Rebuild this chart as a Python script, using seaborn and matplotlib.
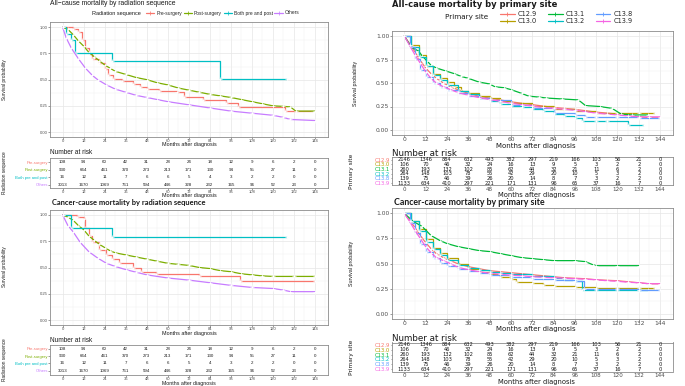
import numpy as np
import pandas as pd
import matplotlib
matplotlib.use("Agg")
import matplotlib.pyplot as plt
import seaborn as sns
from matplotlib.lines import Line2D

# ---------------- data ----------------
months = [0, 12, 24, 36, 48, 60, 72, 84, 96, 108, 120, 132, 144]

rad_groups = ["Pre-surgery", "Post-surgery", "Both pre and post", "Others"]
site_groups = ["C12.9", "C13.0", "C13.1", "C13.2", "C13.8", "C13.9"]

# All-cause mortality by radiation sequence
ac_pre_t = [0, 6, 9, 11, 13, 15, 17, 21, 24, 26, 29, 34, 40, 44, 48, 55, 65, 69, 80, 93, 100, 127, 143]
ac_pre_s = [1.0, 0.98, 0.95, 0.88, 0.80, 0.74, 0.70, 0.66, 0.60, 0.54, 0.51, 0.49, 0.46, 0.43, 0.41, 0.39, 0.38, 0.33, 0.31, 0.28, 0.24, 0.20, 0.20]
ac_post_t = [0, 3, 6, 9, 12, 15, 18, 21, 24, 27, 30, 36, 42, 48, 54, 60, 66, 72, 78, 84, 90, 96, 102, 108, 114, 120, 126, 130, 133, 144]
ac_post_s = [1.0, 0.98, 0.93, 0.87, 0.82, 0.76, 0.72, 0.68, 0.64, 0.61, 0.58, 0.55, 0.52, 0.50, 0.47, 0.45, 0.42, 0.40, 0.38, 0.36, 0.345, 0.33, 0.31, 0.29, 0.27, 0.25, 0.245, 0.24, 0.20, 0.20]
ac_both_t = [0, 2, 5, 7, 28, 90, 128]
ac_both_s = [1.0, 0.94, 0.875, 0.75, 0.68, 0.51, 0.51]
ac_oth_t = [0, 2, 5, 9, 13, 17, 20, 25, 30, 36, 42, 48, 54, 60, 72, 84, 96, 108, 120, 126, 130, 144]
ac_oth_s = [1.0, 0.90, 0.80, 0.70, 0.61, 0.54, 0.50, 0.45, 0.41, 0.38, 0.35, 0.33, 0.31, 0.29, 0.26, 0.23, 0.20, 0.18, 0.16, 0.14, 0.12, 0.11]

# Cancer-cause mortality by radiation sequence
cc_pre_t = [0, 8, 12, 13, 15, 17, 21, 25, 28, 32, 40, 45, 53, 78, 101, 144]
cc_pre_s = [1.0, 0.98, 0.96, 0.88, 0.80, 0.74, 0.67, 0.62, 0.58, 0.54, 0.50, 0.46, 0.44, 0.42, 0.37, 0.37]
cc_post_t = [0, 3, 6, 9, 12, 15, 18, 21, 24, 27, 30, 36, 42, 48, 54, 60, 66, 72, 78, 84, 90, 96, 102, 108, 114, 120, 132, 144]
cc_post_s = [1.0, 0.98, 0.95, 0.90, 0.86, 0.80, 0.76, 0.72, 0.69, 0.66, 0.64, 0.62, 0.60, 0.58, 0.56, 0.54, 0.53, 0.52, 0.50, 0.49, 0.47, 0.46, 0.44, 0.43, 0.42, 0.415, 0.415, 0.415]
cc_both_t = [0, 5, 28, 128]
cc_both_s = [1.0, 0.875, 0.79, 0.79]
cc_oth_t = [0, 3, 6, 10, 15, 20, 25, 30, 36, 42, 48, 60, 72, 84, 96, 108, 120, 126, 130, 144]
cc_oth_s = [1.0, 0.90, 0.84, 0.74, 0.65, 0.59, 0.54, 0.51, 0.48, 0.455, 0.43, 0.40, 0.38, 0.355, 0.33, 0.31, 0.30, 0.285, 0.27, 0.27]

# All-cause mortality by primary site
site_t = [0, 3, 6, 9, 12, 15, 18, 22, 26, 30, 36, 42, 48, 54, 60, 66, 72, 78, 84, 90, 96, 102, 108, 114, 120, 126, 132, 138, 144]
ac_c129_s = [1.0, 0.92, 0.83, 0.74, 0.66, 0.60, 0.55, 0.50, 0.46, 0.43, 0.39, 0.36, 0.34, 0.32, 0.30, 0.285, 0.27, 0.255, 0.24, 0.23, 0.22, 0.205, 0.19, 0.18, 0.17, 0.16, 0.14, 0.13, 0.13]
ac_c139_s = [1.0, 0.90, 0.80, 0.71, 0.62, 0.55, 0.50, 0.46, 0.43, 0.40, 0.37, 0.345, 0.325, 0.305, 0.285, 0.27, 0.255, 0.24, 0.23, 0.22, 0.21, 0.195, 0.18, 0.17, 0.16, 0.15, 0.14, 0.14, 0.14]
ac_c131_t = [0, 4, 8, 10, 13, 15, 18, 23, 28, 32, 36, 42, 48, 51, 56, 60, 66, 70, 76, 80, 89, 98, 102, 110, 117, 122, 128, 137]
ac_c131_s = [1.0, 0.88, 0.84, 0.79, 0.73, 0.69, 0.66, 0.63, 0.60, 0.57, 0.55, 0.51, 0.49, 0.46, 0.45, 0.43, 0.39, 0.36, 0.35, 0.34, 0.33, 0.32, 0.26, 0.25, 0.23, 0.17, 0.16, 0.16]
ac_c130_t = [0, 4, 8, 12, 16, 20, 24, 28, 32, 36, 42, 48, 54, 60, 72, 84, 96, 108, 120, 132, 141]
ac_c130_s = [1.0, 0.90, 0.80, 0.68, 0.60, 0.55, 0.51, 0.46, 0.42, 0.39, 0.36, 0.34, 0.31, 0.29, 0.26, 0.22, 0.20, 0.185, 0.185, 0.185, 0.185]
ac_c132_t = [0, 4, 8, 12, 16, 20, 24, 30, 36, 42, 48, 54, 60, 66, 72, 78, 84, 90, 96, 100, 108, 114, 126, 135]
ac_c132_s = [1.0, 0.88, 0.78, 0.68, 0.59, 0.53, 0.48, 0.42, 0.38, 0.34, 0.31, 0.28, 0.26, 0.24, 0.22, 0.20, 0.17, 0.15, 0.13, 0.10, 0.10, 0.10, 0.05, 0.05]
ac_c138_t = [0, 3, 6, 9, 12, 16, 20, 24, 30, 36, 42, 48, 60, 72, 84, 96, 102, 108, 120, 132, 144]
ac_c138_s = [1.0, 0.88, 0.76, 0.64, 0.56, 0.50, 0.46, 0.43, 0.39, 0.36, 0.34, 0.32, 0.27, 0.23, 0.18, 0.16, 0.135, 0.135, 0.135, 0.13, 0.13]

# Cancer-cause mortality by primary site
cc_c129_s = [1.0, 0.93, 0.86, 0.78, 0.71, 0.65, 0.60, 0.56, 0.53, 0.50, 0.47, 0.45, 0.43, 0.42, 0.41, 0.40, 0.39, 0.38, 0.37, 0.36, 0.355, 0.35, 0.34, 0.335, 0.33, 0.32, 0.31, 0.30, 0.30]
cc_c139_s = [1.0, 0.92, 0.83, 0.75, 0.67, 0.61, 0.56, 0.53, 0.50, 0.465, 0.44, 0.42, 0.405, 0.395, 0.385, 0.38, 0.37, 0.365, 0.36, 0.355, 0.35, 0.345, 0.34, 0.33, 0.325, 0.315, 0.31, 0.30, 0.30]
cc_c131_t = [0, 5, 10, 15, 20, 24, 30, 36, 42, 48, 54, 60, 66, 72, 78, 84, 96, 102, 106, 108, 120, 132]
cc_c131_s = [1.0, 0.92, 0.87, 0.78, 0.73, 0.70, 0.67, 0.65, 0.63, 0.62, 0.60, 0.58, 0.56, 0.55, 0.54, 0.53, 0.53, 0.52, 0.49, 0.48, 0.48, 0.48]
cc_c130_t = [0, 4, 8, 12, 16, 20, 24, 30, 36, 42, 48, 54, 60, 63, 72, 78, 84, 96, 108, 120, 132, 141]
cc_c130_s = [1.0, 0.92, 0.84, 0.74, 0.66, 0.61, 0.56, 0.50, 0.45, 0.42, 0.40, 0.37, 0.35, 0.32, 0.31, 0.29, 0.28, 0.27, 0.26, 0.26, 0.26, 0.26]
cc_c132_t = [0, 4, 8, 12, 16, 20, 24, 30, 36, 42, 48, 54, 60, 72, 84, 90, 96, 100, 108, 120, 132, 137]
cc_c132_s = [1.0, 0.92, 0.82, 0.72, 0.65, 0.59, 0.54, 0.49, 0.46, 0.44, 0.42, 0.41, 0.40, 0.38, 0.36, 0.34, 0.33, 0.235, 0.235, 0.235, 0.235, 0.235]
cc_c138_t = [0, 3, 6, 9, 12, 16, 20, 24, 30, 36, 42, 48, 60, 72, 84, 96, 101, 108, 120, 132, 144]
cc_c138_s = [1.0, 0.90, 0.80, 0.70, 0.62, 0.56, 0.51, 0.48, 0.45, 0.43, 0.41, 0.39, 0.37, 0.35, 0.34, 0.33, 0.25, 0.245, 0.245, 0.24, 0.24]

# Number at risk
risk_pre = [108, 94, 60, 42, 31, 28, 24, 18, 12, 9, 6, 2, 0]
risk_post = [930, 664, 461, 370, 273, 213, 171, 130, 94, 55, 27, 11, 0]
risk_both = [16, 12, 11, 7, 6, 6, 5, 4, 3, 2, 2, 0, 0]
risk_oth = [3013, 1670, 1069, 761, 594, 446, 328, 232, 165, 96, 52, 23, 0]

risk_c129 = [2146, 1346, 884, 632, 493, 382, 297, 219, 166, 103, 56, 21, 0]
risk_c130 = [106, 70, 46, 32, 24, 16, 13, 9, 5, 3, 2, 2, 0]
risk_c131 = [260, 193, 132, 102, 85, 62, 44, 32, 21, 11, 6, 2, 0]
risk_c132 = [264, 148, 103, 78, 55, 42, 29, 20, 10, 5, 3, 2, 0]
risk_c138 = [139, 75, 46, 39, 26, 20, 14, 8, 7, 3, 2, 2, 0]
risk_c139 = [1133, 634, 410, 297, 221, 171, 131, 96, 65, 37, 16, 7, 0]

rad_colors = dict(zip(rad_groups, ["#F8766D", "#7CAE00", "#00BFC4", "#C77CFF"]))
site_colors = dict(zip(site_groups, ["#F8766D", "#B79F00", "#00BA38", "#00BFC4", "#619CFF", "#F564E3"]))

# ---------------- figure ----------------
W, H = 685, 386
sns.set_theme(style="white")
plt.rcParams['font.family'] = ['Liberation Sans', 'DejaVu Sans']
fig = plt.figure(figsize=(W / 100, H / 100), dpi=100)
fig.patch.set_facecolor("white")


def ax_px(l, t, r, b):
    return fig.add_axes([l / W, 1 - b / H, (r - l) / W, (b - t) / H])


def txt(x, y, s, **kw):
    kw.setdefault("va", "center")
    fig.text(x / W, 1 - y / H, s, **kw)


def style_common(ax, tick_fs, family, tlen, tpad):
    ax.set_xlim(-7.2, 151.2)
    ax.set_xticks(months)
    ax.set_xticklabels([str(m) for m in months], fontsize=tick_fs, family=family, color="#4D4D4D")
    ax.set_xlabel("")
    ax.set_ylabel("")
    for sp in ax.spines.values():
        sp.set_color("#8C8C8C")
        sp.set_linewidth(0.6)
    ax.tick_params(axis="both", which="major", bottom=True, left=True, length=tlen, width=0.4,
                   pad=tpad, colors="#4D4D4D")
    ax.tick_params(which="minor", length=0)
    ax.set_facecolor("white")


def km_panel(box, curves, colors, steps, tick_fs, family, tlen, tpad):
    ax = ax_px(*box)
    for name, (t, s) in curves.items():
        df = pd.DataFrame({"Months": t, "Survival": s})
        sns.lineplot(data=df, x="Months", y="Survival", ax=ax, color=colors[name], lw=0.9,
                     drawstyle="steps-post" if name in steps else "default",
                     marker="+", markersize=2.6, markeredgewidth=0.5,
                     estimator=None, sort=False, legend=False)
    style_common(ax, tick_fs, family, tlen, tpad)
    ax.set_ylim(-0.05, 1.05)
    ax.set_yticks([0, 0.25, 0.5, 0.75, 1.0])
    ax.set_yticklabels(["0.00", "0.25", "0.50", "0.75", "1.00"], fontsize=tick_fs, family=family, color="#4D4D4D")
    ax.set_xticks(range(6, 151, 12), minor=True)
    ax.set_yticks([0.125, 0.375, 0.625, 0.875], minor=True)
    ax.grid(True, which="major", color="#E6E6E6", lw=0.5)
    ax.grid(True, which="minor", color="#F0F0F0", lw=0.3)
    ax.set_axisbelow(True)
    return ax


def risk_panel(box, groups, table, colors, num_fs, lab_fs, tick_fs, family, grid, tlen, tpad):
    ax = ax_px(*box)
    n = len(groups)
    style_common(ax, tick_fs, family, tlen, tpad)
    ax.set_ylim(n - 0.5, -0.5)
    for i, g in enumerate(groups):
        for m, v in zip(months, table[g]):
            ax.text(m, i, str(v), ha="center", va="center", fontsize=num_fs, family=family, color="#1A1A1A")
    ax.set_yticks(range(n))
    ax.set_yticklabels(groups, fontsize=lab_fs, family=family)
    for lab, g in zip(ax.get_yticklabels(), groups):
        lab.set_color(colors[g])
    if grid:
        ax.grid(True, axis="x", color="#EEEEEE", lw=0.4)
        ax.set_axisbelow(True)
    return ax


LS = ["Liberation Sans", "DejaVu Sans"]
DV = ["DejaVu Sans"]
LA = ["Lato", "DejaVu Sans"]

# ---- top-left ----
tl_curves = {"Pre-surgery": (ac_pre_t, ac_pre_s), "Post-surgery": (ac_post_t, ac_post_s),
             "Both pre and post": (ac_both_t, ac_both_s), "Others": (ac_oth_t, ac_oth_s)}
km_panel((50, 22, 327.6, 137.3), tl_curves, rad_colors, {"Pre-surgery", "Both pre and post"}, 3.0, LS, 1.1, 0.4)
rad_table = {"Pre-surgery": risk_pre, "Post-surgery": risk_post, "Both pre and post": risk_both, "Others": risk_oth}
risk_panel((50, 158.3, 327.6, 188.3), rad_groups, rad_table, rad_colors, 3.2, 3.0, 3.0, LS, False, 1.1, 0.4)
txt(50, 3.5, "All\u2212cause mortality by radiation sequence", fontsize=4.9, family=LS, color="#1A1A1A")
txt(92, 13, "Radiation sequence", fontsize=4.0, family=LS, color="#1A1A1A")
txt(5, 80, "Survival probability", fontsize=3.4, family=LS, rotation=90, ha="center", color="#1A1A1A")
txt(189, 144.5, "Months after diagnosis", fontsize=3.9, family=LS, ha="center", color="#1A1A1A")
txt(50, 152, "Number at risk", fontsize=4.7, family=LS, color="#1A1A1A")
txt(189, 195.5, "Months after diagnosis", fontsize=3.9, family=LS, ha="center", color="#1A1A1A")
txt(5, 173, "Radiation sequence", fontsize=3.4, family=LS, rotation=90, ha="center", color="#1A1A1A")

handles = [Line2D([], [], color=rad_colors[g], lw=0.9, marker="+", markersize=2.6, markeredgewidth=0.5) for g in rad_groups]
fig.legend(handles, rad_groups, loc="center left", bbox_to_anchor=(146 / W, 1 - 13 / H), ncol=4,
           frameon=False, prop={"family": LS, "size": 3.5}, handlelength=1.7, handletextpad=0.4,
           columnspacing=0.35, borderpad=0, borderaxespad=0)

# ---- bottom-left ----
bl_curves = {"Pre-surgery": (cc_pre_t, cc_pre_s), "Post-surgery": (cc_post_t, cc_post_s),
             "Both pre and post": (cc_both_t, cc_both_s), "Others": (cc_oth_t, cc_oth_s)}
km_panel((50, 209.75, 327.6, 325.25), bl_curves, rad_colors, {"Pre-surgery", "Both pre and post"}, 3.0, LS, 1.1, 0.4)
risk_panel((50, 345, 327.6, 374.5), rad_groups, rad_table, rad_colors, 3.2, 3.0, 3.0, LS, False, 1.1, 0.4)
txt(52, 202.5, "Cancer-cause mortality by radiation sequence", fontsize=5.4, family=LA,
    weight="bold", color="#1A1A1A")
txt(5, 267, "Survival probability", fontsize=3.4, family=LS, rotation=90, ha="center", color="#1A1A1A")
txt(189, 333, "Months after diagnosis", fontsize=3.9, family=LS, ha="center", color="#1A1A1A")
txt(50, 340.5, "Number at risk", fontsize=4.7, family=LS, color="#1A1A1A")
txt(189, 383.4, "Months after diagnosis", fontsize=3.8, family=LS, ha="center", color="#1A1A1A")
txt(5, 360, "Radiation sequence", fontsize=3.4, family=LS, rotation=90, ha="center", color="#1A1A1A")

# ---- top-right ----
tr_curves = {"C12.9": (site_t, ac_c129_s), "C13.0": (ac_c130_t, ac_c130_s), "C13.1": (ac_c131_t, ac_c131_s),
             "C13.2": (ac_c132_t, ac_c132_s), "C13.8": (ac_c138_t, ac_c138_s), "C13.9": (site_t, ac_c139_s)}
km_panel((391.5, 31.3, 672.9, 134.7), tr_curves, site_colors, {"C13.0", "C13.2", "C13.8"}, 4.3, DV, 1.2, 0.5)
site_table = {"C12.9": risk_c129, "C13.0": risk_c130, "C13.1": risk_c131,
              "C13.2": risk_c132, "C13.8": risk_c138, "C13.9": risk_c139}
risk_panel((391.5, 157.3, 672.9, 185.5), site_groups, site_table, site_colors, 3.7, 3.8, 4.1, DV, True, 1.0, 0.3)
txt(392, 4.5, "All-cause mortality by primary site", fontsize=6.0, family=DV, weight="bold", color="#1A1A1A")
txt(445, 17.5, "Primary site", fontsize=5.2, family=DV, color="#1A1A1A")
txt(355, 83, "Survival probability", fontsize=3.8, family=LS, rotation=90, ha="center", color="#1A1A1A")
txt(536, 146, "Months after diagnosis", fontsize=5.0, family=DV, ha="center", color="#1A1A1A")
txt(392, 154, "Number at risk", fontsize=6.3, family=DV, color="#1A1A1A")
txt(536, 195.2, "Months after diagnosis", fontsize=4.9, family=DV, ha="center", color="#1A1A1A")
txt(351, 171, "Primary site", fontsize=4.2, family=DV, rotation=90, ha="center", color="#1A1A1A")

handles = [Line2D([], [], color=site_colors[g], lw=0.9, marker="+", markersize=3, markeredgewidth=0.6) for g in site_groups]
fig.legend(handles, site_groups, loc="center left", bbox_to_anchor=(500 / W, 1 - 17.5 / H), ncol=3,
           frameon=False, prop={"family": DV, "size": 4.8}, handlelength=2.2, handletextpad=0.5,
           columnspacing=1.6, borderpad=0, borderaxespad=0, labelspacing=0.2)

# ---- bottom-right ----
br_curves = {"C12.9": (site_t, cc_c129_s), "C13.0": (cc_c130_t, cc_c130_s), "C13.1": (cc_c131_t, cc_c131_s),
             "C13.2": (cc_c132_t, cc_c132_s), "C13.8": (cc_c138_t, cc_c138_s), "C13.9": (site_t, cc_c139_s)}
km_panel((391.5, 208.3, 672.9, 319), br_curves, site_colors, {"C13.0", "C13.2", "C13.8"}, 4.3, DV, 1.2, 0.5)
risk_panel((391.5, 342.5, 672.9, 371.5), site_groups, site_table, site_colors, 3.7, 3.8, 4.1, DV, True, 1.0, 0.3)
txt(394, 202.5, "Cancer-cause mortality by primary site", fontsize=6.3, family=LA,
    weight="bold", color="#1A1A1A")
txt(351, 263, "Survival probability", fontsize=3.8, family=LS, rotation=90, ha="center", color="#1A1A1A")
txt(536, 329, "Months after diagnosis", fontsize=5.0, family=DV, ha="center", color="#1A1A1A")
txt(392, 338.5, "Number at risk", fontsize=6.3, family=DV, color="#1A1A1A")
txt(536, 382, "Months after diagnosis", fontsize=4.9, family=DV, ha="center", color="#1A1A1A")
txt(351, 357, "Primary site", fontsize=4.2, family=DV, rotation=90, ha="center", color="#1A1A1A")

fig.savefig("out.png", dpi=100, facecolor="white")
